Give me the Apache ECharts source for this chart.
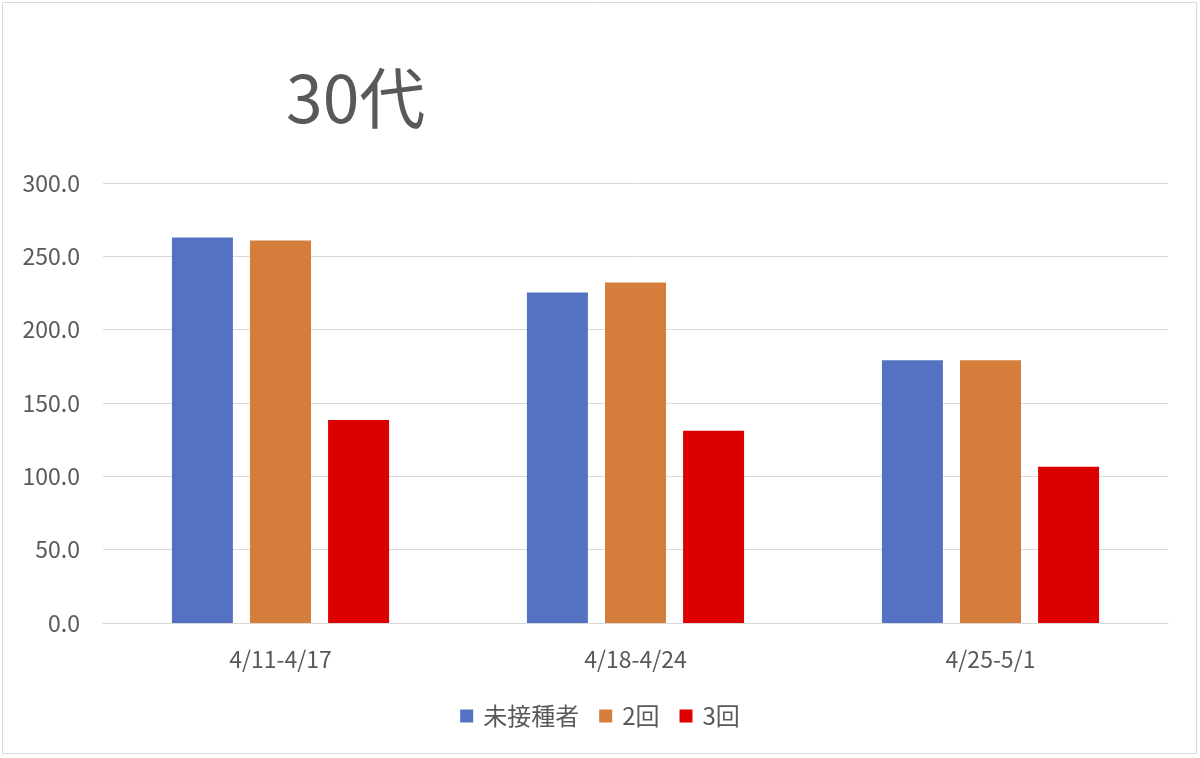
<!DOCTYPE html>
<html><head><meta charset="utf-8">
<script src="https://cdn.jsdelivr.net/npm/echarts@6/dist/echarts.min.js"></script>
<style>html,body{margin:0;padding:0;background:#fff}#c{width:1200px;height:758px}</style>
</head><body><div id="c"></div>
<script>
const title = '30代';
const categories = ['4/11-4/17', '4/18-4/24', '4/25-5/1'];
const seriesNames = ['未接種者', '2回', '3回'];
const unvaccinated = [262.8, 225.4, 179.1];
const twoDoses = [260.8, 232.2, 179.1];
const threeDoses = [138.4, 131.1, 106.6];
const colors = ['#5572C2', '#D57D3A', '#DD0000'];
const font = '"Noto Sans CJK JP", "Noto Sans", sans-serif';

const chart = echarts.init(document.getElementById('c'), null, {renderer: 'canvas'});
chart.setOption({
  animation: false,
  backgroundColor: '#fff',
  title: {text: title, left: 281, top: 60, textStyle: {fontSize: 66, fontWeight: 'normal', color: '#595959', fontFamily: font}},
  graphic: [{type: 'rect', shape: {x: 2.5, y: 2.5, width: 1194, height: 751}, style: {fill: 'none', stroke: '#d9d9d9', lineWidth: 1}, silent: true}],
  grid: {left: 103, right: 32, top: 183, bottom: 135},
  legend: {data: seriesNames, top: 699, left: 'center', itemWidth: 13, itemHeight: 13, itemGap: 20, icon: 'rect',
    textStyle: {fontSize: 24, color: '#595959', fontFamily: font, padding: [0, 0, 0, 5]}},
  xAxis: {type: 'category', data: categories,
    axisLine: {lineStyle: {color: '#d9d9d9'}}, axisTick: {show: false},
    axisLabel: {fontSize: 23, color: '#595959', margin: 25, fontFamily: font}},
  yAxis: {type: 'value', min: 0, max: 300, interval: 50,
    axisLine: {show: false}, axisTick: {show: false},
    splitLine: {lineStyle: {color: '#d9d9d9', width: 1}},
    axisLabel: {fontSize: 23, color: '#595959', margin: 23, fontFamily: font, formatter: v => v.toFixed(1)}},
  series: [
    {name: seriesNames[0], type: 'bar', data: unvaccinated, barWidth: 61, barGap: '28%', itemStyle: {color: colors[0]}},
    {name: seriesNames[1], type: 'bar', data: twoDoses, barWidth: 61, barGap: '28%', itemStyle: {color: colors[1]}},
    {name: seriesNames[2], type: 'bar', data: threeDoses, barWidth: 61, barGap: '28%', itemStyle: {color: colors[2]}}
  ]
});
</script></body></html>
